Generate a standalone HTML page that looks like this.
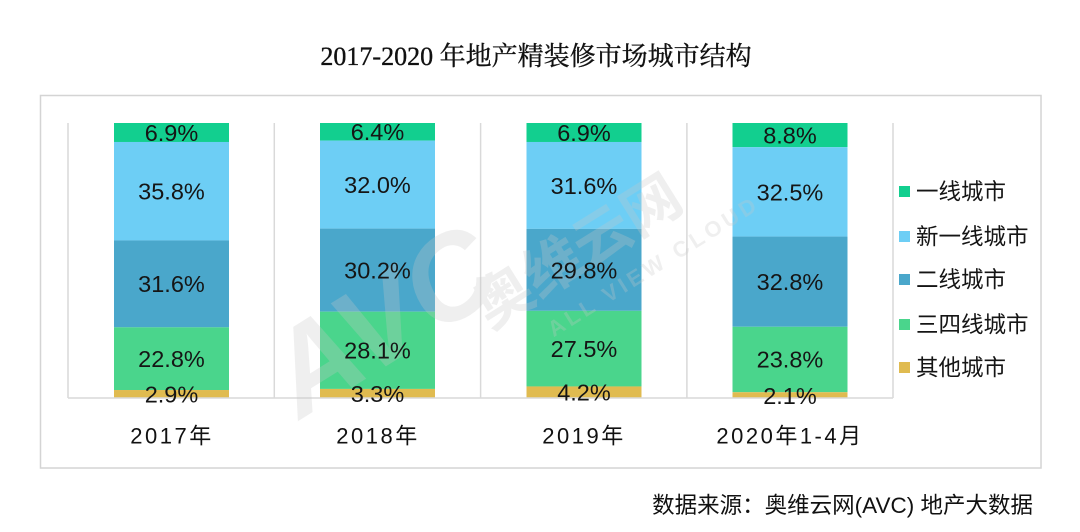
<!DOCTYPE html>
<html><head><meta charset="utf-8">
<style>
html,body{margin:0;padding:0;background:#fff;}
svg{display:block;}
</style></head>
<body>
<svg width="1080" height="532" viewBox="0 0 1080 532" xmlns="http://www.w3.org/2000/svg">
<rect width="1080" height="532" fill="#ffffff"/>
<text x="536" y="65" text-anchor="middle" font-family="'Liberation Serif','Noto Serif CJK SC',serif" font-size="26" fill="#111" stroke="#111" stroke-width="0.35">2017-2020 年地产精装修市场城市结构</text>
<rect x="40.5" y="95.5" width="1000.5" height="372.5" fill="none" stroke="#d4d4d4" stroke-width="1.5"/>
<g stroke="#d9d9d9" stroke-width="1.5">
<line x1="68" y1="123" x2="68" y2="398"/>
<line x1="274.3" y1="123" x2="274.3" y2="398"/>
<line x1="480.6" y1="123" x2="480.6" y2="398"/>
<line x1="686.9" y1="123" x2="686.9" y2="398"/>
<line x1="893" y1="123" x2="893" y2="398"/>
</g>
<!-- 2017 -->
<g>
<rect x="114" y="123" width="115" height="18.98" fill="#12CF8F"/>
<rect x="114" y="141.98" width="115" height="98.45" fill="#6DCEF5"/>
<rect x="114" y="240.43" width="115" height="86.9" fill="#4AA7CB"/>
<rect x="114" y="327.33" width="115" height="62.7" fill="#4AD58C"/>
<rect x="114" y="390.03" width="115" height="7.97" fill="#E0BB50"/>
</g>
<!-- 2018 -->
<g>
<rect x="320" y="123" width="115" height="17.6" fill="#12CF8F"/>
<rect x="320" y="140.6" width="115" height="88" fill="#6DCEF5"/>
<rect x="320" y="228.6" width="115" height="83.05" fill="#4AA7CB"/>
<rect x="320" y="311.65" width="115" height="77.28" fill="#4AD58C"/>
<rect x="320" y="388.93" width="115" height="9.07" fill="#E0BB50"/>
</g>
<!-- 2019 -->
<g>
<rect x="526.5" y="123" width="115" height="18.98" fill="#12CF8F"/>
<rect x="526.5" y="141.98" width="115" height="86.9" fill="#6DCEF5"/>
<rect x="526.5" y="228.88" width="115" height="81.95" fill="#4AA7CB"/>
<rect x="526.5" y="310.83" width="115" height="75.62" fill="#4AD58C"/>
<rect x="526.5" y="386.45" width="115" height="11.55" fill="#E0BB50"/>
</g>
<!-- 2020 -->
<g>
<rect x="732.5" y="123" width="115" height="24.2" fill="#12CF8F"/>
<rect x="732.5" y="147.2" width="115" height="89.38" fill="#6DCEF5"/>
<rect x="732.5" y="236.58" width="115" height="90.2" fill="#4AA7CB"/>
<rect x="732.5" y="326.78" width="115" height="65.45" fill="#4AD58C"/>
<rect x="732.5" y="392.23" width="115" height="5.77" fill="#E0BB50"/>
</g>
<line x1="68" y1="398" x2="893" y2="398" stroke="#d9d9d9" stroke-width="1.5"/>

<!-- watermark -->
<g opacity="0.28" font-family="'Liberation Sans','Noto Sans CJK SC',sans-serif" font-weight="bold">
<g transform="translate(300,420) rotate(-32)">
<text x="0" y="0" font-size="120" font-style="italic" fill="#c8c8c8">AVC</text>
</g>
<g transform="translate(490,330) rotate(-32)">
<text x="0" y="0" font-size="58" fill="#c8c8c8">奥维云网</text>
<text x="50" y="40" font-size="22" letter-spacing="4" fill="#c8c8c8">ALL VIEW CLOUD</text>
</g>
</g>

<g font-family="'Liberation Sans','Noto Sans CJK SC',sans-serif" font-size="23.5" fill="#151515" text-anchor="middle">
<text x="171.5" y="141">6.9%</text>
<text x="171.5" y="199.5">35.8%</text>
<text x="171.5" y="292">31.6%</text>
<text x="171.5" y="367">22.8%</text>
<text x="171.5" y="402.5">2.9%</text>

<text x="377.5" y="140">6.4%</text>
<text x="377.5" y="193">32.0%</text>
<text x="377.5" y="278.5">30.2%</text>
<text x="377.5" y="358.5">28.1%</text>
<text x="377.5" y="402">3.3%</text>

<text x="584" y="141">6.9%</text>
<text x="584" y="194">31.6%</text>
<text x="584" y="278.5">29.8%</text>
<text x="584" y="357">27.5%</text>
<text x="584" y="400.5">4.2%</text>

<text x="790" y="143.5">8.8%</text>
<text x="790" y="200.5">32.5%</text>
<text x="790" y="290">32.8%</text>
<text x="790" y="367.5">23.8%</text>
<text x="790" y="404">2.1%</text>
</g>

<g font-family="'Liberation Sans','Noto Sans CJK SC',sans-serif" font-size="22" fill="#111" text-anchor="middle" letter-spacing="2.5">
<text x="172" y="443.5">2017年</text>
<text x="378" y="443.5">2018年</text>
<text x="584" y="443.5">2019年</text>
<text x="790" y="443.5">2020年1-4月</text>
</g>

<g font-family="'Liberation Sans','Noto Sans CJK SC',sans-serif" font-size="22.5" fill="#151515">
<rect x="899" y="186" width="11" height="11" fill="#12CF8F"/>
<text x="916" y="199.5">一线城市</text>
<rect x="899" y="231" width="11" height="11" fill="#6DCEF5"/>
<text x="916" y="244.5">新一线城市</text>
<rect x="899" y="274" width="11" height="11" fill="#4AA7CB"/>
<text x="916" y="287.5">二线城市</text>
<rect x="899" y="319" width="11" height="11" fill="#4AD58C"/>
<text x="916" y="332.5">三四线城市</text>
<rect x="899" y="362" width="11" height="11" fill="#E0BB50"/>
<text x="916" y="375.5">其他城市</text>
</g>

<text x="1033" y="513" text-anchor="end" font-family="'Liberation Sans','Noto Sans CJK SC',sans-serif" font-size="22.5" fill="#111">数据来源：奥维云网(AVC) 地产大数据</text>
</svg>
</body></html>
